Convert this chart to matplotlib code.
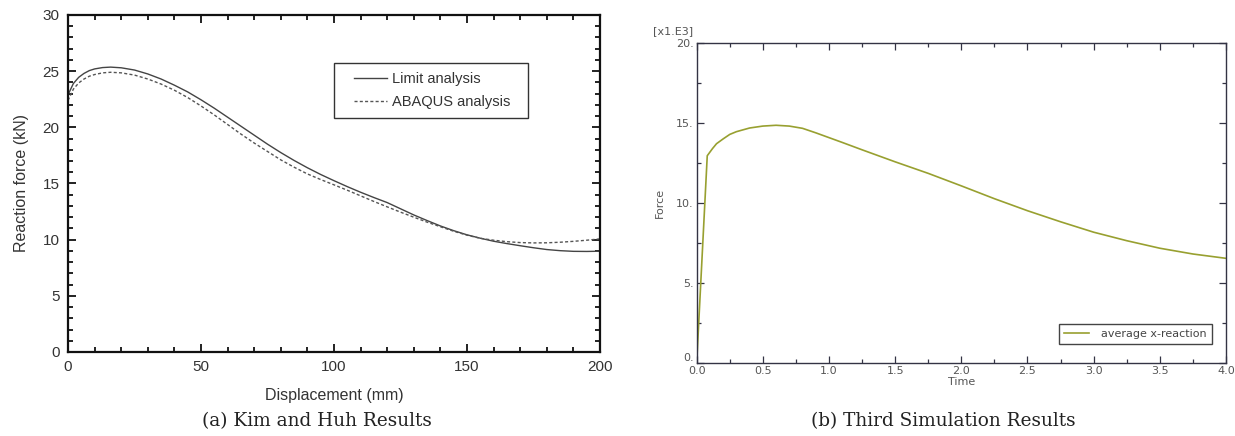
import numpy as np
import matplotlib
matplotlib.use("Agg")
import matplotlib.pyplot as plt
from matplotlib.patches import Rectangle
from matplotlib.ticker import MultipleLocator

# ─── data: (a) Kim and Huh ────────────────────────────────────────────────────
disp = [0, 2, 4, 6, 8, 10, 13, 16, 20, 25, 30, 35, 40, 45, 50, 55, 60, 65, 70,
        75, 80, 85, 90, 95, 100, 105, 110, 115, 120, 125, 130, 135, 140, 145,
        150, 155, 160, 165, 170, 175, 180, 185, 190, 195, 200]
limit_force = [22.9, 23.9, 24.45, 24.8, 25.05, 25.2, 25.32, 25.36, 25.3, 25.1,
               24.75, 24.3, 23.75, 23.15, 22.45, 21.7, 20.9, 20.1, 19.3, 18.5,
               17.75, 17.05, 16.4, 15.8, 15.25, 14.72, 14.22, 13.75, 13.3, 12.75,
               12.2, 11.7, 11.22, 10.8, 10.43, 10.13, 9.86, 9.65, 9.46, 9.28,
               9.12, 9.02, 8.96, 8.95, 8.97]
abaqus_force = [22.4, 23.4, 23.95, 24.3, 24.55, 24.7, 24.85, 24.9, 24.85, 24.65,
                24.3, 23.85, 23.3, 22.65, 21.9, 21.1, 20.25, 19.4, 18.6, 17.85,
                17.1, 16.45, 15.85, 15.35, 14.88, 14.4, 13.9, 13.4, 12.92, 12.45,
                12.0, 11.56, 11.15, 10.75, 10.4, 10.12, 9.95, 9.82, 9.74, 9.71,
                9.72, 9.77, 9.85, 9.95, 10.07]

# ─── data: (b) third simulation ───────────────────────────────────────────────
time = [0.0, 0.08, 0.12, 0.15, 0.2, 0.25, 0.3, 0.4, 0.5, 0.6, 0.7, 0.8, 0.9,
        1.0, 1.1, 1.25, 1.5, 1.75, 2.0, 2.25, 2.5, 2.75, 3.0, 3.25, 3.5, 3.75,
        4.0]
x_reaction = [0.0, 12.95, 13.4, 13.7, 14.0, 14.28, 14.45, 14.68, 14.8, 14.85,
              14.8, 14.66, 14.38, 14.08, 13.78, 13.32, 12.57, 11.85, 11.07,
              10.27, 9.52, 8.83, 8.18, 7.65, 7.18, 6.82, 6.55]

fig = plt.figure(figsize=(12.35, 4.36), dpi=100)

# ─── (a) ──────────────────────────────────────────────────────────────────────
ax1 = fig.add_axes([0.0551, 0.1927, 0.4307, 0.7729])
ax1.plot(disp, limit_force, color="#444444", lw=1.0, label="Limit analysis")
ax1.plot(disp, abaqus_force, color="#555555", lw=1.0, ls=(0, (2.2, 1.6)),
         label="ABAQUS analysis")
ax1.set_xlim(0, 200)
ax1.set_ylim(0, 30)
ax1.xaxis.set_major_locator(MultipleLocator(50))
ax1.xaxis.set_minor_locator(MultipleLocator(10))
ax1.yaxis.set_major_locator(MultipleLocator(5))
ax1.yaxis.set_minor_locator(MultipleLocator(1))
for s in ax1.spines.values():
    s.set_linewidth(1.6)
    s.set_color("#111111")
ax1.tick_params(which="both", direction="in", top=True, right=True,
                width=1.3, color="#111111", labelsize=11, labelcolor="#333333",
                pad=6)
ax1.tick_params(which="major", length=6)
ax1.tick_params(which="minor", length=3.5)
for lab in ax1.get_xticklabels() + ax1.get_yticklabels():
    lab.set_family("Liberation Sans")
ax1.set_xlabel("Displacement (mm)", fontsize=11.5, family="Liberation Sans",
               color="#333333", labelpad=10)
ax1.set_ylabel("Reaction force (kN)", fontsize=11.5, family="Liberation Sans",
               color="#333333", labelpad=10)

# legend: box drawn separately (wide side padding like the original)
ax1.add_patch(Rectangle((0.5, 0.693), 0.364, 0.164, transform=ax1.transAxes,
                        fill=True, facecolor="white", edgecolor="#333333",
                        lw=1.0, zorder=4))
leg1 = ax1.legend(loc="upper left", bbox_to_anchor=(0.537, 0.83),
                  prop={"family": "Liberation Sans", "size": 10.5},
                  frameon=False, handlelength=2.3, borderpad=0,
                  labelspacing=0.62, handletextpad=0.3, borderaxespad=0)
leg1.set_zorder(5)
for t in leg1.get_texts():
    t.set_color("#333333")

# ─── (b) ──────────────────────────────────────────────────────────────────────
ax2 = fig.add_axes([0.5641, 0.1667, 0.4286, 0.7353])
ax2.plot(time, x_reaction, color="#98a030", lw=1.2, label="average x-reaction")
ax2.set_xlim(0, 4)
ax2.set_ylim(0, 20)
ax2.xaxis.set_minor_locator(MultipleLocator(0.25))
ax2.yaxis.set_minor_locator(MultipleLocator(2.5))
ax2.set_xticks(np.arange(0, 4.01, 0.5))
ax2.set_xticklabels([f"{v:.1f}" for v in np.arange(0, 4.01, 0.5)])
ax2.set_yticks([0, 5, 10, 15, 20])
ax2.set_yticklabels(["0.", "5.", "10.", "15.", "20."])
ax2.get_yticklabels()[0].set_va("bottom")
for s in ax2.spines.values():
    s.set_linewidth(1.0)
    s.set_color("#333344")
ax2.tick_params(which="both", direction="in", top=True, right=True,
                width=0.9, color="#333344", labelsize=8, labelcolor="#555555",
                pad=2)
ax2.tick_params(which="major", length=5)
ax2.tick_params(which="minor", length=3)
ax2.set_xlabel("Time", fontsize=8, color="#555555", labelpad=1)
ax2.set_ylabel("Force", fontsize=8, color="#555555", labelpad=8)
ax2.text(-0.007, 1.022, "[x1.E3]", transform=ax2.transAxes, ha="right",
         va="bottom", fontsize=8, color="#555555")
leg2 = ax2.legend(loc="lower right", bbox_to_anchor=(0.973, 0.06),
                  prop={"size": 8}, fancybox=False, framealpha=1,
                  edgecolor="#444444", handlelength=2.25, handletextpad=1.1,
                  borderpad=0.45, borderaxespad=0)
leg2.get_frame().set_linewidth(1.0)
for t in leg2.get_texts():
    t.set_color("#444444")

# ─── captions ─────────────────────────────────────────────────────────────────
fig.text(0.257, 0.035, "(a) Kim and Huh Results", ha="center", va="center",
         fontsize=13.3, family="DejaVu Serif", color="#222222")
fig.text(0.764, 0.035, "(b) Third Simulation Results", ha="center", va="center",
         fontsize=13.3, family="DejaVu Serif", color="#222222")

fig.savefig("out.png", dpi=100)
